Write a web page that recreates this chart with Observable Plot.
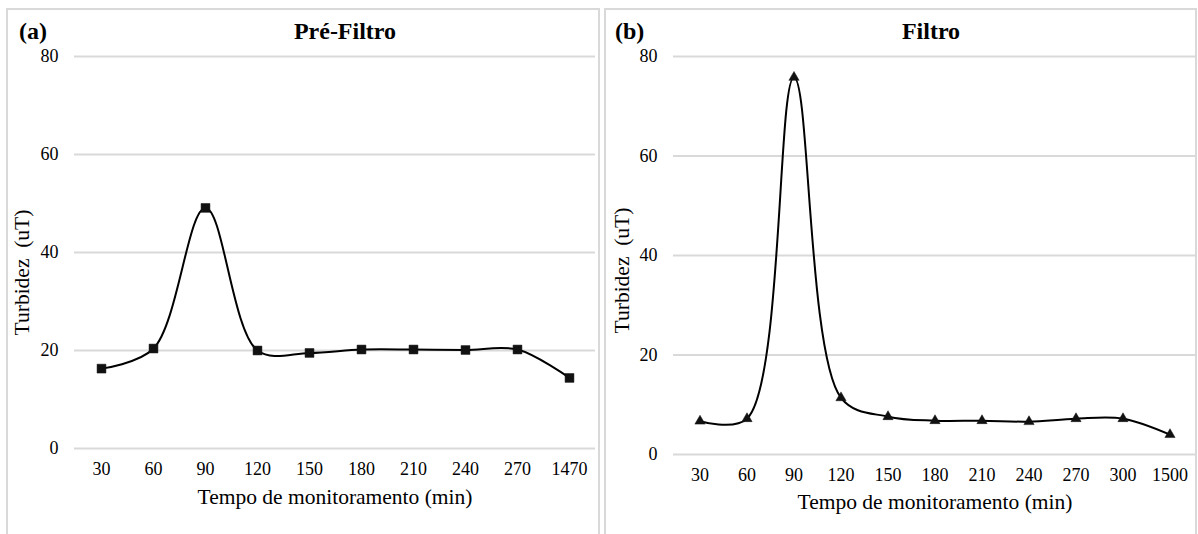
<!DOCTYPE html>
<html>
<head>
<meta charset="utf-8">
<script src="https://cdn.jsdelivr.net/npm/d3@7"></script>
<script src="https://cdn.jsdelivr.net/npm/@observablehq/plot@0.6"></script>
<style>
  html, body { margin: 0; padding: 0; background: #fff; font-family: 'Liberation Serif', serif; }
  #wrap { position: relative; width: 1198px; height: 534px; overflow: hidden; }
  .panel { position: absolute; top: 8px; height: 540px; border: 2px solid #d9d9d9; border-bottom: none; box-sizing: border-box; }
  .plotbox { position: absolute; top: 0; }
  .tag, .title { position: absolute; font-weight: bold; font-size: 24px; color: #000; line-height: 1; white-space: nowrap; }
  .title { transform: translateX(-50%); }
</style>
</head>
<body>
<div id="wrap">
  <div class="panel" style="left:6px; width:594px;"></div>
  <div class="panel" style="left:604px; width:593px;"></div>
  <div class="plotbox" id="pa" style="left:0px;"></div>
  <div class="plotbox" id="pb" style="left:600px;"></div>
  <div class="tag" style="left:19px; top:19px;">(a)</div>
  <div class="title" style="left:345px; top:19px;">Pré-Filtro</div>
  <div class="tag" style="left:615px; top:19px;">(b)</div>
  <div class="title" style="left:931px; top:19px;">Filtro</div>
</div>
<script>
// Panel (a) Pré-Filtro
const tempoA = ["30", "60", "90", "120", "150", "180", "210", "240", "270", "1470"];
const turbA  = [16.3, 20.4, 49.1, 20.0, 19.5, 20.2, 20.2, 20.1, 20.2, 14.4];
// Panel (b) Filtro
const tempoB = ["30", "60", "90", "120", "150", "180", "210", "240", "270", "300", "1500"];
const turbB  = [6.7, 7.2, 75.8, 11.4, 7.6, 6.8, 6.8, 6.6, 7.2, 7.2, 4.0];
const yTicks = [0, 20, 40, 60, 80];
const xTitle = "Tempo de monitoramento (min)";
const yTitle = "Turbidez  (uT)";

function panel(cats, vals, symbol, r, opts) {
  const data = cats.map((c, i) => ({t: c, v: vals[i]}));
  return Plot.plot({
    width: opts.width, height: 534,
    marginLeft: opts.ml, marginRight: opts.mr, marginTop: 56, marginBottom: opts.mb,
    style: "background: transparent; font-family: 'Liberation Serif', serif; font-size: 18px; color: #000;",
    x: {domain: cats, type: "band", padding: 0, align: 0.5},
    y: {domain: [0, 80]},
    marks: [
      Plot.gridY(yTicks, {stroke: "#d9d9d9", strokeOpacity: 1, strokeWidth: 2}),
      Plot.axisY(yTicks, {tickSize: 0, tickPadding: 16, label: null, fontSize: 18}),
      Plot.axisX({tickSize: 0, tickPadding: 14, label: null, fontSize: 18}),
      Plot.text([xTitle], {frameAnchor: "bottom", dy: opts.xdy, text: d => d, fontSize: 21.5, fill: "#000"}),
      Plot.text([yTitle], {frameAnchor: "left", textAnchor: "middle", dx: opts.ydx, dy: opts.ydy, rotate: -90, text: d => d, fontSize: 21.5, fill: "#000"}),
      Plot.line(data, {x: "t", y: "v", curve: "catmull-rom", stroke: "#000", strokeWidth: 2}),
      Plot.dot(data, {x: "t", y: "v", symbol: symbol, r: r, fill: "#111", stroke: "#111", strokeWidth: 0.5})
    ]
  });
}

document.getElementById("pa").appendChild(
  panel(tempoA, turbA, "square", 5.0, {width: 600, ml: 74, mr: 5, mb: 86, xdy: 55, ydx: -52, ydy: 20})
);
document.getElementById("pb").appendChild(
  panel(tempoB, turbB, "triangle", 3.8, {width: 598, ml: 73, mr: 2, mb: 80, xdy: 54, ydx: -51, ydy: 15})
);
</script>
</body>
</html>
